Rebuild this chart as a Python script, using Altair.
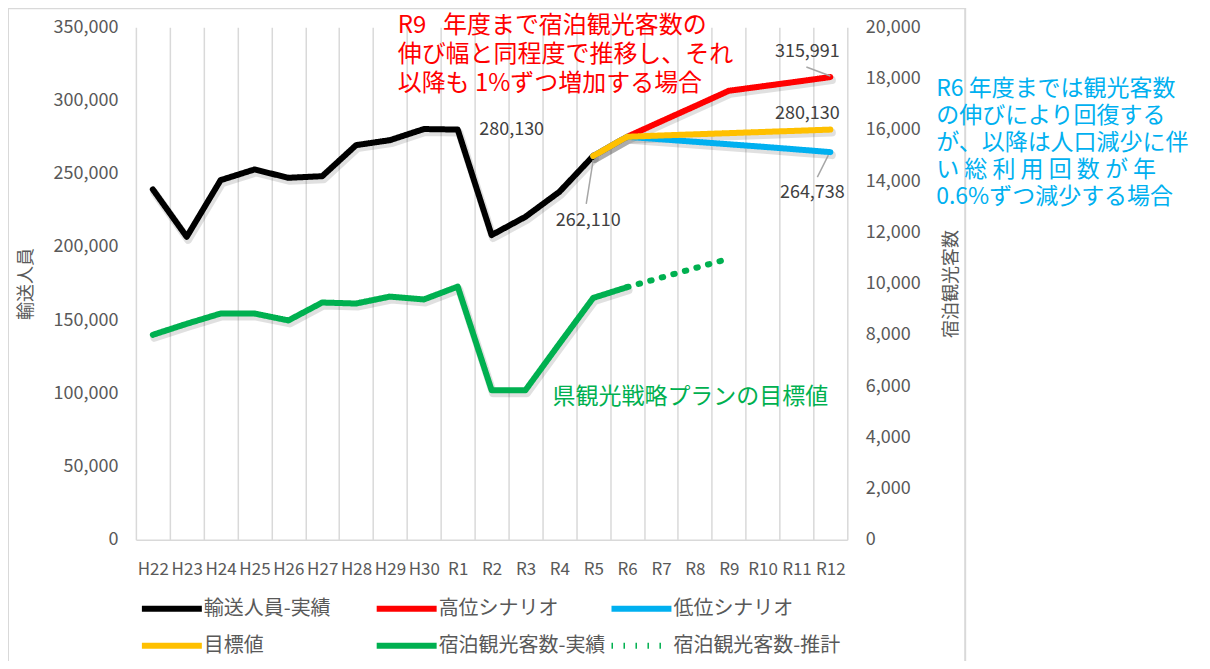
import altair as alt
import pandas as pd

FONT = "Noto Sans CJK JP"
GRAY_TXT = "#595959"
GRID = "#d9d9d9"

# ---------------- data ----------------
categories = ["H22", "H23", "H24", "H25", "H26", "H27", "H28", "H29", "H30",
              "R1", "R2", "R3", "R4", "R5", "R6", "R7", "R8", "R9", "R10", "R11", "R12"]

actual_years = ["H22", "H23", "H24", "H25", "H26", "H27", "H28", "H29", "H30",
                "R1", "R2", "R3", "R4", "R5"]
passengers_actual = [239300, 206900, 245600, 252900, 247200, 248300, 269500,
                     272900, 280500, 280130, 208100, 220600, 237600, 262110]

scenario_years = ["R5", "R6", "R7", "R8", "R9", "R10", "R11", "R12"]
high_scenario = [262110, 275200, 285700, 296100, 306600, 309700, 312800, 315991]
low_scenario = [262110, 275200, 273500, 271800, 270100, 268400, 266600, 264738]
target_values = [262110, 275200, 276100, 276900, 277700, 278500, 279300, 280130]

stay_years = ["H22", "H23", "H24", "H25", "H26", "H27", "H28", "H29", "H30",
              "R1", "R2", "R3", "R4", "R5", "R6"]
stay_actual = [8000, 8430, 8830, 8830, 8560, 9260, 9220, 9490, 9380,
               9880, 5840, 5840, 7650, 9440, 9860]
stay_est_years = ["R6", "R7", "R8", "R9"]
stay_estimate = [9860, 10230, 10600, 10970]

series_names = ["輸送人員-実績", "高位シナリオ", "低位シナリオ",
                "目標値", "宿泊観光客数-実績", "宿泊観光客数-推計"]
series_colors = ["#000000", "#ff0000", "#00b0f0", "#ffc000", "#00b050", "#00b050"]
series_dashes = [[1, 0], [1, 0], [1, 0], [1, 0], [1, 0], [1.5, 10.5]]

red_note = ["R9\u2002\u2009年度まで宿泊観光客数の", "伸び幅と同程度で推移し、それ", "以降も 1%ずつ増加する場合"]
blue_note = ["R6 年度までは観光客数", "の伸びにより回復する", "が、以降は人口減少に伴",
             "い 総 利 用 回 数 が 年", "0.6%ずつ減少する場合"]
green_note = "県観光戦略プランの目標値"


def frame(cats, vals, name):
    return pd.DataFrame({"c": cats, "v": vals, "s": name})


df_pass = frame(actual_years, passengers_actual, series_names[0])
df_high = frame(scenario_years, high_scenario, series_names[1])
df_low = frame(scenario_years, low_scenario, series_names[2])
df_target = frame(scenario_years, target_values, series_names[3])
df_stay = frame(stay_years, stay_actual, series_names[4])
df_est = frame(stay_est_years, stay_estimate, series_names[5])

# ---------------- encodings ----------------
W, H = 712, 513

x_scale = alt.Scale(domain=categories, type="band", paddingInner=0, paddingOuter=0)
x_axis = alt.Axis(title=None, grid=True, gridColor=GRID, gridWidth=1.5, tickBand="extent",
                  domain=True, domainColor=GRID, domainWidth=1.5, ticks=False,
                  labelAngle=0, labelPadding=22, labelFontSize=17, labelOverlap=False)


def X():
    return alt.X("c:N", scale=x_scale, axis=x_axis, bandPosition=0.5)


yl_scale = alt.Scale(domain=[0, 350000], nice=False)
yl_axis = alt.Axis(title="輸送人員", format=",.0f", tickCount=7, labelPadding=18,
                   titleAngle=-90, titleX=-109, titleY=H / 2, titleAlign="center",
                   titleBaseline="middle", grid=False)
yr_scale = alt.Scale(domain=[0, 20000], nice=False)
yr_axis = alt.Axis(title="宿泊観光客数", orient="right", format=",.0f", tickCount=10,
                   labelAlign="left", labelPadding=18, titleAngle=-90, titleX=104,
                   titleY=H / 2, titleAlign="center", titleBaseline="middle", grid=False)


def YL():
    return alt.Y("v:Q", scale=yl_scale, axis=yl_axis)


def YR():
    return alt.Y("v:Q", scale=yr_scale, axis=yr_axis)


legend = alt.Legend(title=None, orient="none", legendX=23, legendY=569, columns=3,
                    direction="horizontal",
                    gridAlign="all", symbolType="M-3,0H3", symbolSize=400,
                    symbolStrokeWidth=6, labelFontSize=20, labelColor=GRAY_TXT,
                    labelFont=FONT, labelOffset=19, labelLimit=400,
                    columnPadding=-6, rowPadding=12, padding=0)

color_enc = alt.Color("s:N", scale=alt.Scale(domain=series_names, range=series_colors), legend=legend)
dash_enc = alt.StrokeDash("s:N", scale=alt.Scale(domain=series_names, range=series_dashes), legend=legend)

line_style = dict(strokeWidth=6, strokeCap="round", strokeJoin="round")


def line(df, y):
    return alt.Chart(df).mark_line(**line_style).encode(x=X(), y=y, color=color_enc, strokeDash=dash_enc)


def shadow(df, y):
    # soft drop shadow beneath each solid series, as in the original
    return alt.Chart(df).mark_line(strokeWidth=8, strokeCap="round", strokeJoin="round",
                                   color="#000000", opacity=0.12, xOffset=1.5, yOffset=3).encode(
        x=X(), y=y)


def value_label(cat, val, dx, dy):
    df = pd.DataFrame({"c": [cat], "v": [val]})
    return alt.Chart(df).mark_text(dx=dx, dy=dy, align="center", baseline="middle", fontSize=18,
                                   color="#404040", font=FONT).encode(
        x=X(), y=YL(), text=alt.Text("v:Q", format=","))


def leader(cat, val, ox1, oy1, ox2, oy2):
    df = pd.DataFrame({"c": [cat], "v": [val]})
    return alt.Chart(df).mark_rule(color="#a6a6a6", strokeWidth=1.5, xOffset=ox1, yOffset=oy1,
                                   x2Offset=ox2, y2Offset=oy2).encode(
        x=X(), y=YL(), x2="c:N", y2="v:Q")


one = pd.DataFrame({"k": [0]})

outer = alt.Chart(one).mark_rect(fillOpacity=0, stroke=GRID, strokeWidth=2).encode(
    x=alt.value(-128), x2=alt.value(830), y=alt.value(-19), y2=alt.value(700))

red_txt = alt.Chart(one).mark_text(text=red_note, align="left", baseline="top", fontSize=24,
                                   lineHeight=29, color="#ff0000", font=FONT).encode(
    x=alt.value(262), y=alt.value(-13))
blue_txt = alt.Chart(one).mark_text(text=blue_note, align="left", baseline="top", fontSize=23,
                                    lineHeight=27, color="#00b0f0", font=FONT).encode(
    x=alt.value(801), y=alt.value(51))
green_txt = alt.Chart(one).mark_text(text=green_note, align="left", baseline="middle", fontSize=23,
                                     color="#00b050", font=FONT).encode(
    x=alt.value(417), y=alt.value(370))

left = alt.layer(
    shadow(df_pass, YL()),
    shadow(df_high, YL()),
    shadow(df_low, YL()),
    shadow(df_target, YL()),
    line(df_pass, YL()),
    line(df_high, YL()),
    line(df_low, YL()),
    line(df_target, YL()),
    value_label("R1", 280130, 54, 0),
    value_label("R5", 262110, -5, 65),
    value_label("R12", 315991, -23, -25),
    value_label("R12", 280130, -23, -16),
    value_label("R12", 264738, -18, 41),
    leader("R5", 262110, 0, 4, -7, 48),
    leader("R12", 315991, -24, -10, 0, -1),
    leader("R12", 264738, -2, 3, -13, 25),
)

right = alt.layer(
    shadow(df_stay, YR()),
    line(df_stay, YR()),
    line(df_est, YR()),
)

chart = alt.layer(outer, left, right, red_txt, blue_txt, green_txt).resolve_scale(
    y="independent"
).properties(
    width=W, height=H,
    padding={"left": 128, "top": 19, "right": 355, "bottom": 121},
    autosize=alt.AutoSizeParams(type="none"),
).configure_view(stroke=None).configure_axis(
    labelFont=FONT, labelFontSize=18, labelColor=GRAY_TXT,
    titleFont=FONT, titleFontSize=18, titleColor=GRAY_TXT, titleFontWeight="normal",
    domain=False, ticks=False,
).configure_axisX(domain=True)

chart.save("out.html", embed_options={"renderer": "svg", "actions": False})
